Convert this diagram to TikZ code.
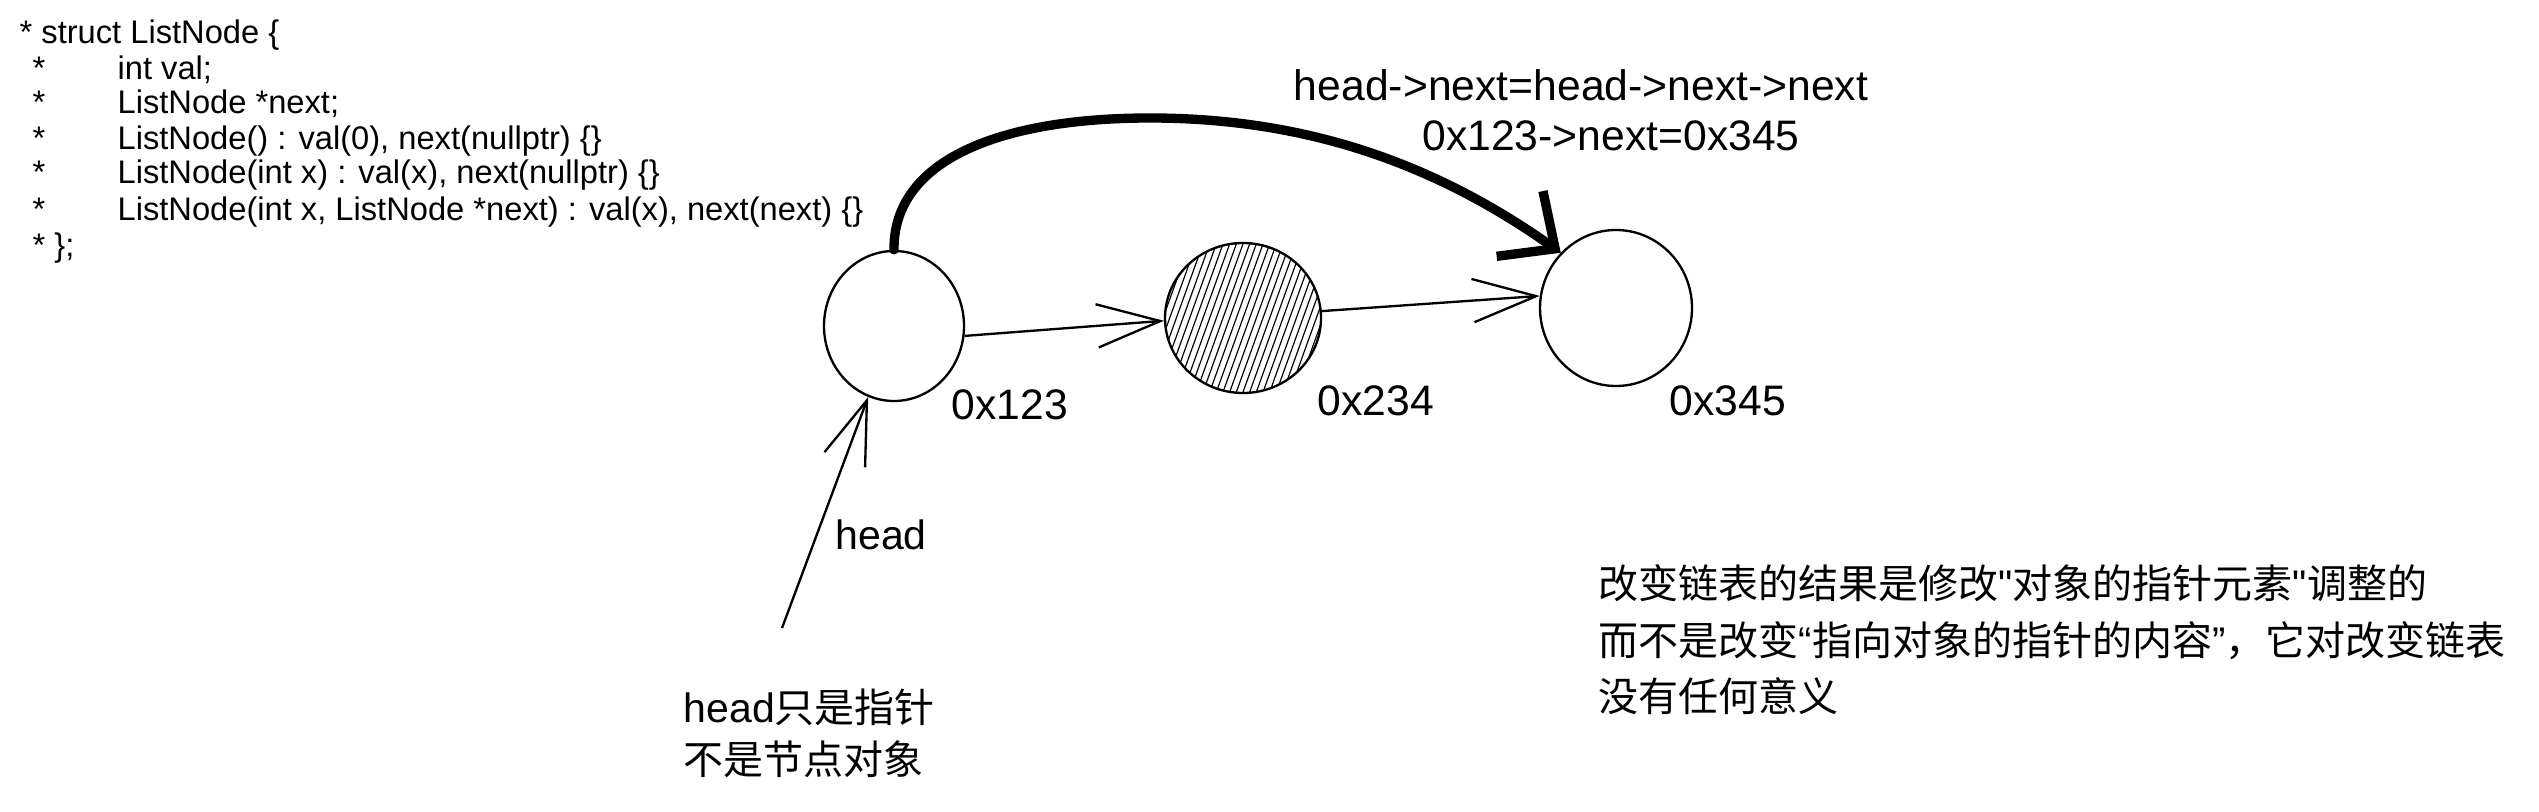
\documentclass[tikz,border=0pt]{standalone}
\usepackage{fontspec}
\setmainfont{Liberation Sans}
\newfontfamily\cjk{Noto Sans CJK SC}
\newfontfamily\qfont[Ligatures=TeXOff]{Liberation Sans}
\usetikzlibrary{shapes.geometric,arrows.meta,calc}
\begin{document}
\begin{tikzpicture}[x=0.3pt,y=-0.3pt,
  listnode/.style={draw,ellipse,line width=0.7pt,inner sep=0pt},
  addr/.style={inner sep=0pt,font=\fontsize{12.8}{15}\selectfont,text height=0.72em,text depth=0pt},
  codeline/.style={anchor=west,inner sep=0pt,font=\fontsize{9.8}{12}\selectfont,text height=0.72em,text depth=0pt},
  thinarrow/.style={line width=0.7pt,-{Straight Barb[length=19pt,width=13pt]}},
  thickarrow/.style={line width=2.8pt,line cap=round,-{Straight Barb[length=13pt,width=24pt]}},
  note/.style={anchor=west,inner sep=0pt,font=\cjk\fontsize{12}{17}\selectfont,text height=0.88em,text depth=0.12em},
  hatch/.style={line width=0.35pt}
]
\useasboundingbox (0,0) rectangle (2539,812);

% code
\node[codeline] (c1) at (19,32) {* struct ListNode \{};
\node[codeline] (c2) at (32,68) {\makebox[25.5pt][l]{*}int val;};
\node[codeline] (c3) at (32,102) {\makebox[25.5pt][l]{*}ListNode *next;};
\node[codeline] (c4) at (32,138) {\makebox[25.5pt][l]{*}ListNode() : val(0), next(nullptr) \{\}};
\node[codeline] (c5) at (32,172) {\makebox[25.5pt][l]{*}ListNode(int x) : val(x), next(nullptr) \{\}};
\node[codeline] (c6) at (32,209) {\makebox[25.5pt][l]{*}ListNode(int x, ListNode *next) : val(x), next(next) \{\}};
\node[codeline] (c7) at (32,245) {* \};};

% list nodes
\node[listnode,minimum width=42pt,minimum height=45pt] (n1) at (894,326) {};
\node[listnode,minimum width=46.8pt,minimum height=45pt] (n2) at (1243,318) {};
\node[listnode,minimum width=45.6pt,minimum height=46.8pt] (n3) at (1616,308) {};

\begin{scope}
  \clip (n2.center) ellipse [x radius=23.4pt, y radius=22.5pt];
  \begin{scope}[shift={(n2.center)}]
    \foreach \a in {-40,-38,...,40} {
      \draw[hatch] (\a pt-9pt,-25pt) -- (\a pt+9pt,25pt);
    }
  \end{scope}
\end{scope}

% addresses
\node[addr] (a1) at (1010,408) {0x123};
\node[addr] (a2) at (1376,403) {0x234};
\node[addr] (a3) at (1728,403) {0x345};

% arrows
\draw[thinarrow] (n1.-8) -- (n2.182);
\draw[thinarrow] (n2.5) -- (n3.171);
\coordinate (htail) at (782,628);
\draw[thinarrow] (htail) -- (n1.-110);
\draw[thickarrow] (n1.north) .. controls (893,160) and (1000,118) .. (1150,118)
   .. controls (1300,118) and (1430,160) .. (n3.135);

% labels
\node[addr] (t1) at (1581,89) {head->next=head->next->next};
\node[addr] (t2) at (1611,139) {0x123->next=0x345};
\node[addr,font=\fontsize{12.3}{15}\selectfont] (hl) at (881,537) {head};

\node[note] (h1) at (683,710) {{\fontsize{12.3}{15}\selectfont\rmfamily head}只是指针};
\node[note] (h2) at (683,762) {不是节点对象};

\node[note] (r1) at (1598,586) {改变链表的结果是修改{\qfont"}对象的指针元素{\qfont"}调整的};
\node[note] (r2) at (1598,643) {而不是改变{\qfont “}指向对象的指针的内容{\qfont ”}，它对改变链表};
\node[note] (r3) at (1598,699) {没有任何意义};
\end{tikzpicture}
\end{document}
